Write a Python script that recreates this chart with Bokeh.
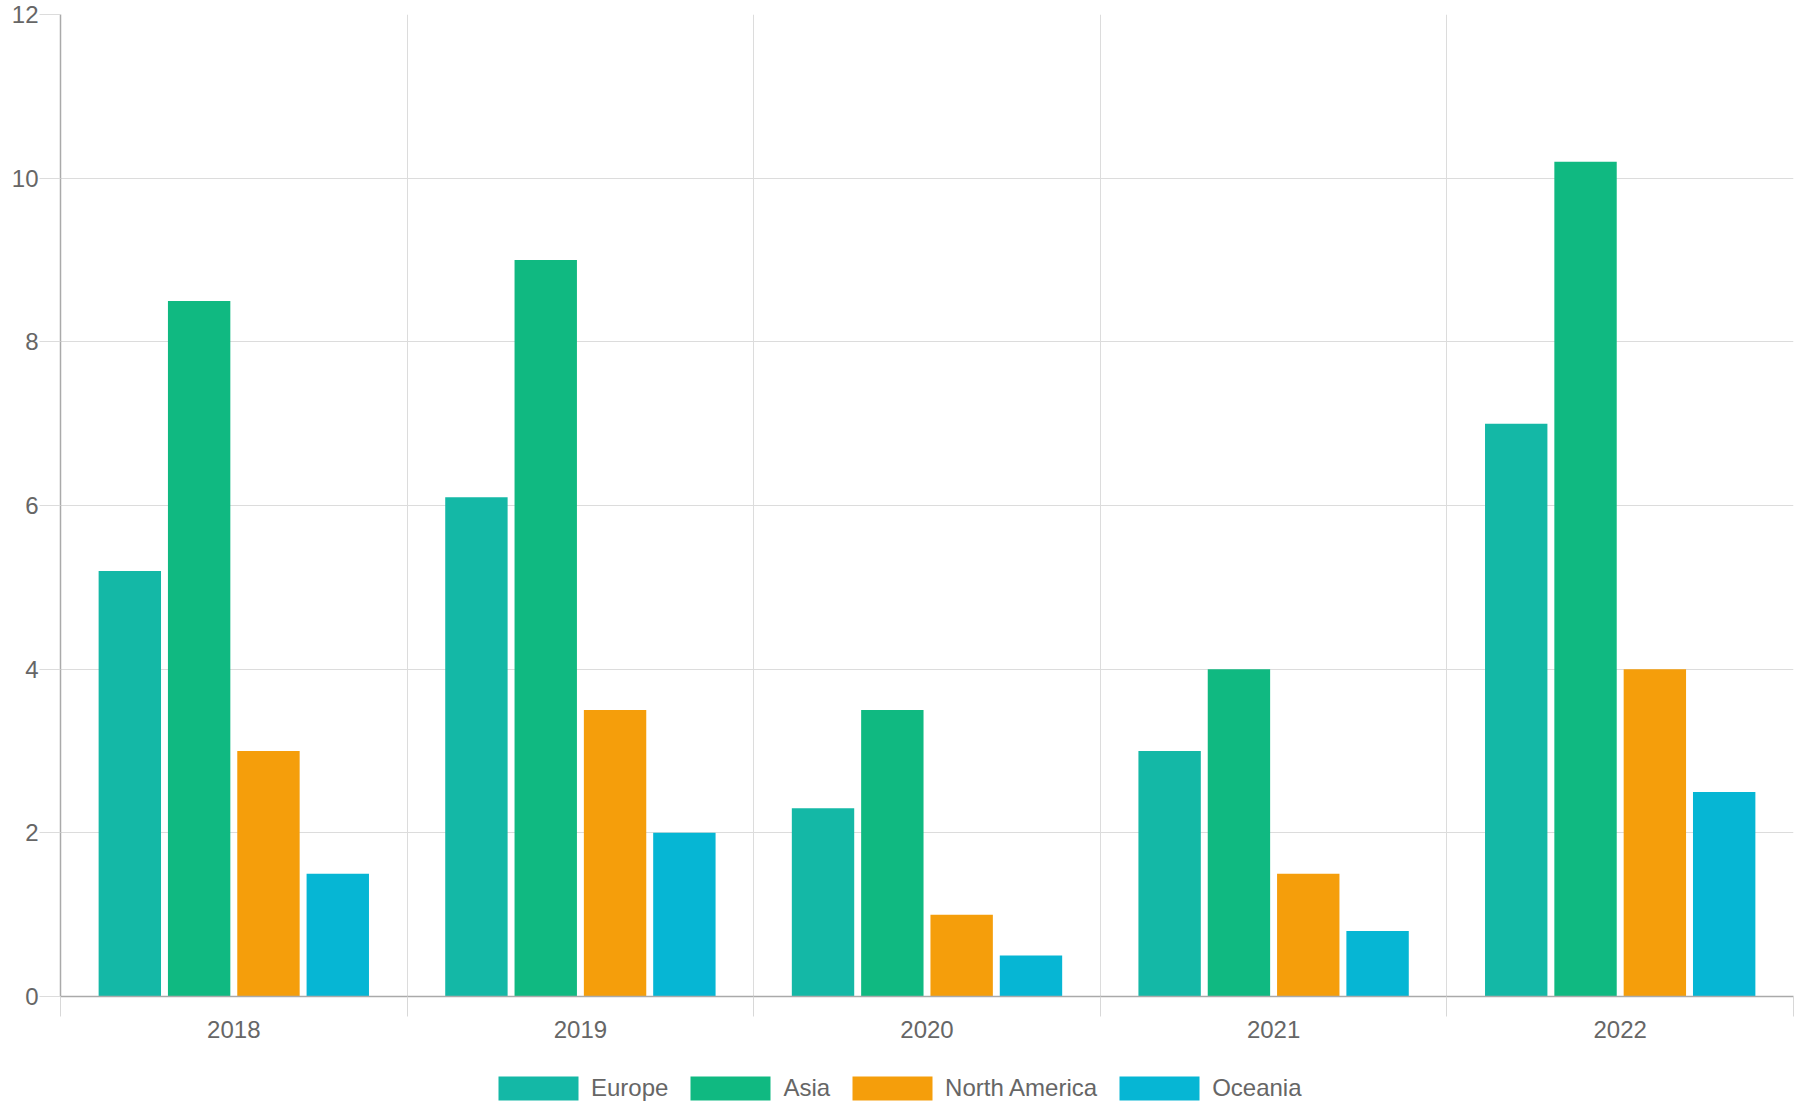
from bokeh.plotting import figure
from bokeh.layouts import column
from bokeh.models import Range1d, FixedTicker, Legend, LegendItem, ColumnDataSource
from bokeh.transform import dodge
from bokeh.embed import file_html
from bokeh.resources import INLINE

years = ["2018", "2019", "2020", "2021", "2022"]
europe = [5.2, 6.1, 2.3, 3.0, 7.0]
asia = [8.5, 9.0, 3.5, 4.0, 10.2]
north_america = [3.0, 3.5, 1.0, 1.5, 4.0]
oceania = [1.5, 2.0, 0.5, 0.8, 2.5]
series_names = ["Europe", "Asia", "North America", "Oceania"]
series_colors = ["#14b8a6", "#10b981", "#f59e0b", "#06b6d4"]
y_ticks = [0, 2, 4, 6, 8, 10, 12]

FONT = "Liberation Sans"
TEXT = "#666666"

centers = [i + 0.5 for i in range(len(years))]
source = ColumnDataSource(dict(x=centers, Europe=europe, Asia=asia,
                               NorthAmerica=north_america, Oceania=oceania))
fields = ["Europe", "Asia", "NorthAmerica", "Oceania"]
offsets = [-0.3, -0.1, 0.1, 0.3]

p = figure(width=1800, height=1050, output_backend="svg", toolbar_location=None,
           x_range=Range1d(0, len(years)), y_range=Range1d(0, 12),
           min_border_left=60, min_border_right=7, min_border_top=14,
           min_border_bottom=54)
p.outline_line_color = None
p.background_fill_color = "white"
p.border_fill_color = "white"

for f, off, col in zip(fields, offsets, series_colors):
    p.vbar(x=dodge("x", off), top=f, width=0.18, source=source,
           fill_color=col, line_color=None)

# x axis
xt = FixedTicker(ticks=centers, minor_ticks=list(range(len(years) + 1)))
p.xaxis.ticker = xt
p.xaxis.major_label_overrides = {c: y for c, y in zip(centers, years)}
p.xaxis.major_tick_out = 0
p.xaxis.major_tick_in = 0
p.xaxis.major_tick_line_color = None
p.xaxis.minor_tick_out = 20
p.xaxis.minor_tick_in = 0
p.xaxis.minor_tick_line_color = "#d8d8d8"
p.xaxis.axis_line_color = "#aaaaaa"
p.xaxis.axis_line_width = 1.5
p.xaxis.major_label_standoff = 4
p.xaxis.major_label_text_font = FONT
p.xaxis.major_label_text_font_size = "24px"
p.xaxis.major_label_text_color = TEXT

p.xgrid.ticker = xt
p.xgrid.grid_line_color = None
p.xgrid.minor_grid_line_color = "#dcdcdc"

# y axis
p.yaxis.ticker = FixedTicker(ticks=y_ticks)
p.yaxis.major_tick_out = 21
p.yaxis.major_tick_in = 0
p.yaxis.major_tick_line_color = "#dcdcdc"
p.yaxis.minor_tick_line_color = None
p.yaxis.axis_line_color = "#aaaaaa"
p.yaxis.axis_line_width = 1.5
p.yaxis.major_label_standoff = 1
p.yaxis.major_label_text_font = FONT
p.yaxis.major_label_text_font_size = "24px"
p.yaxis.major_label_text_color = TEXT
p.ygrid.grid_line_color = "#dcdcdc"

# legend strip (its renderers share the data but lie outside the strip's view)
lg = figure(width=1800, height=70, output_backend="svg", toolbar_location=None,
            x_axis_type=None, y_axis_type=None,
            x_range=Range1d(0, len(years)), y_range=Range1d(100, 101),
            min_border=0)
lg.outline_line_color = None
lg.xgrid.visible = False
lg.ygrid.visible = False
items = []
for n, f, off, col in zip(series_names, fields, offsets, series_colors):
    r = lg.vbar(x=dodge("x", off), top=f, width=0.18, source=source,
                fill_color=col, line_color=None)
    items.append(LegendItem(label=n, renderers=[r]))
legend = Legend(items=items, orientation="horizontal", location=(428, 17), margin=0, padding=0,
                spacing=12, glyph_width=100, glyph_height=30, label_standoff=3,
                label_text_font=FONT, label_text_font_size="24px", label_text_color=TEXT,
                border_line_color=None, background_fill_alpha=0)
lg.add_layout(legend, "center")

layout = column(p, lg, spacing=0)
open("out.html", "w").write(file_html(layout, INLINE))
